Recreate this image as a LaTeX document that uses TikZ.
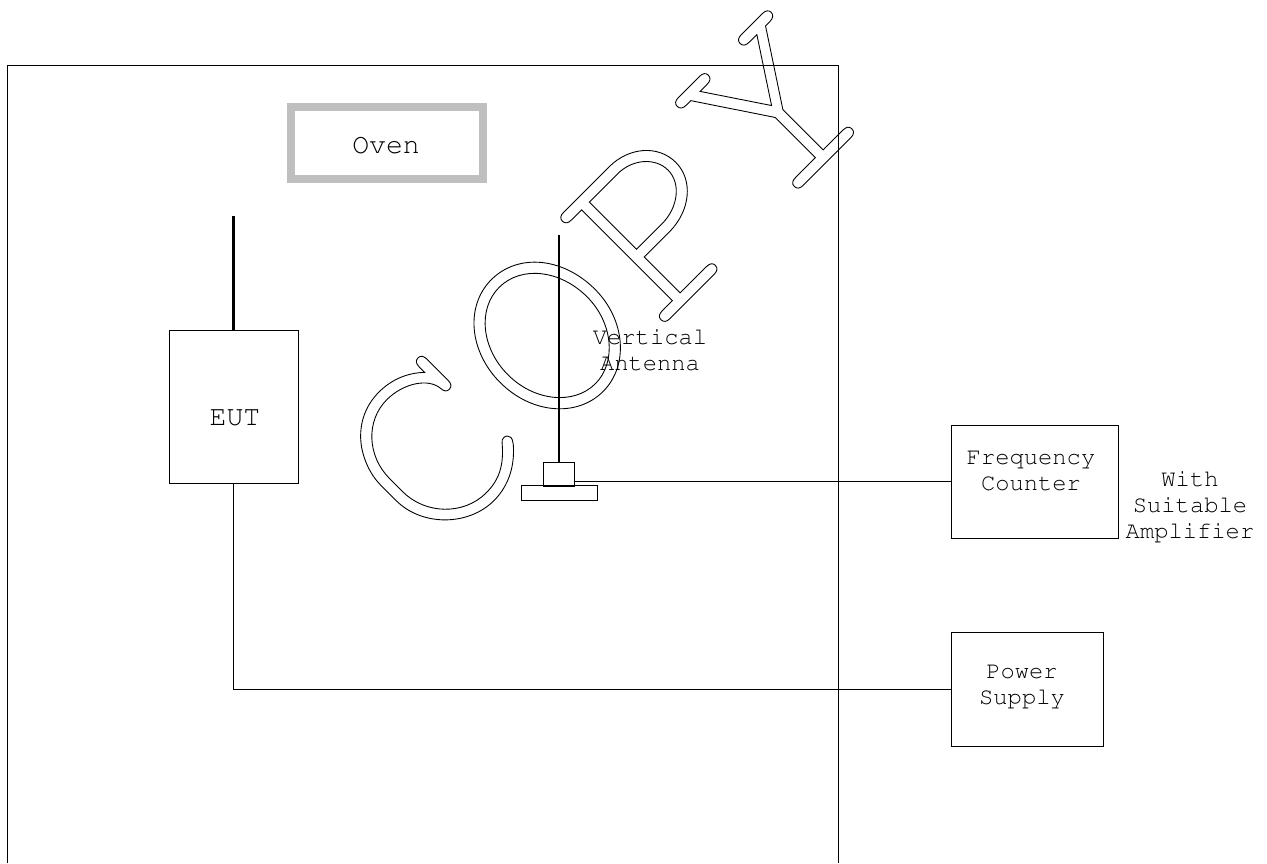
\documentclass[tikz,border=0pt]{standalone}
\usepackage[T1]{fontenc}
\usepackage{courier}
\tikzset{
  box/.style={draw, line width=0.5pt, inner sep=0pt},
  lab/.style={font=\fontsize{13.55}{14.8}\ttfamily\selectfont, align=center, inner sep=0pt},
  wire/.style={line width=0.5pt},
  mast/.style={line width=1.3pt}
}
\begin{document}
\begin{tikzpicture}[x=0.02cm, y=-0.02cm, line join=miter]
\useasboundingbox (0,0) rectangle (1267,863);
% chamber, open at the foot of the page
\coordinate (cha) at (7,863);
\coordinate (chb) at (7,65);
\coordinate (chc) at (838,65);
\coordinate (chd) at (838,863);
\draw[wire] (cha) -- (chb) -- (chc) -- (chd);
\node[draw=black!25, line width=0.16cm, minimum width=3.84cm, minimum height=1.44cm, inner sep=0pt] (oven) at (387,143) {};
\node[lab, font=\fontsize{16}{16}\ttfamily\selectfont] (ovenlab) at (386,145) {Oven};
% EUT
\node[box, minimum width=2.58cm, minimum height=3.06cm] (eut) at (233.5,406.5) {};
\node[lab, font=\fontsize{16}{16}\ttfamily\selectfont] (eutlab) at (235,418) {EUT};
\coordinate (euttip) at (233.5,216);
\draw[mast] (euttip) -- (eut.north);
% antenna on its base
\node[box, minimum width=1.52cm, minimum height=0.30cm] (base) at (559,493) {};
\node[box, minimum width=0.62cm, minimum height=0.47cm] (feed) at (559,474.5) {};
\coordinate (anttip) at (559,235);
\draw[mast] (anttip) -- (feed.north);
\node[lab] (antlab) at (650,350) {Vertical\\Antenna};
% instruments
\node[box, minimum width=3.34cm, minimum height=2.26cm] (counter) at (1034.5,481.5) {};
\node[lab] (counterlab) at (1031,471) {Frequency\\Counter};
\node[lab] (amplab) at (1190,507) {With\\Suitable\\Amplifier};
\node[box, minimum width=3.04cm, minimum height=2.28cm] (power) at (1027,689) {};
\node[lab] (powerlab) at (1022,687) {Power\\Supply};
\draw[wire] (feed.east |- counter.west) -- (counter.west);
\draw[wire] (eut.south) |- (power.west);
% watermark
\node[rotate=45, inner sep=0pt, anchor=center] (copy) at (602,277)
  {\special{pdf:code q 1 Tr 0.5 w}\fontsize{152}{152}\ttfamily\selectfont COPY\special{pdf:code Q}};
\end{tikzpicture}
\end{document}
